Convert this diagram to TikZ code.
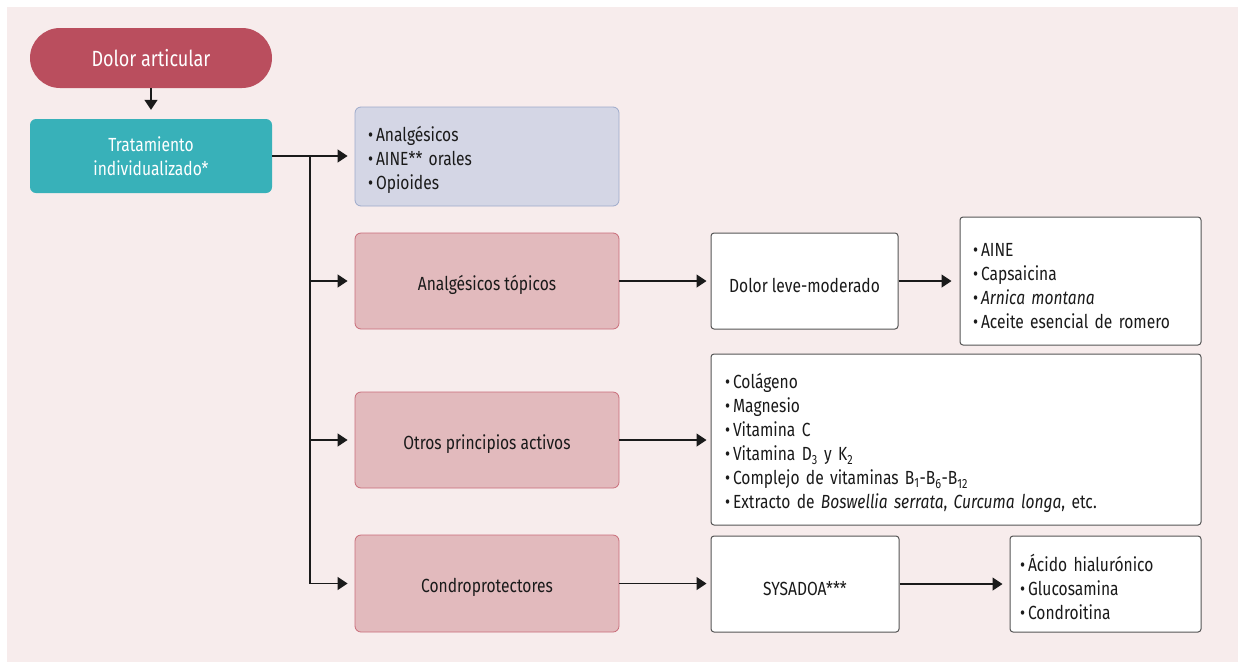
\documentclass[tikz,border=0pt]{standalone}
\usepackage{fontspec}
\setmainfont{Fira Sans}[FakeStretch=0.82]
\usetikzlibrary{arrows.meta}
\definecolor{bg}{HTML}{F7ECEC}
\definecolor{wine}{HTML}{BA4E5E}
\definecolor{teal}{HTML}{38B1B9}
\definecolor{lav}{HTML}{D4D6E5}
\definecolor{lavb}{HTML}{9DAACB}
\definecolor{rose}{HTML}{E2BABD}
\definecolor{roseb}{HTML}{C96C79}
\definecolor{ink}{HTML}{1A1A1A}
\definecolor{wline}{HTML}{555555}
\newcommand{\bul}{\textbullet\hspace{3pt}}
\tikzset{
  txt/.style={font=\fontsize{19}{24}\selectfont, text=ink, execute at begin node={\rule{0pt}{23pt}}},
  topbox/.style={fill=wine, draw=none, rounded corners=30pt, text=white, font=\fontsize{22}{26}\selectfont},
  tealbox/.style={fill=teal, draw=none, rounded corners=6pt, text=white, align=center, font=\fontsize{19}{24}\selectfont},
  lavbox/.style={txt, fill=lav, draw=lavb, line width=0.8pt, rounded corners=6pt},
  rosebox/.style={txt, fill=rose, draw=roseb, line width=0.8pt, rounded corners=6pt},
  whitebox/.style={txt, fill=white, draw=wline, line width=1pt, rounded corners=3pt},
  conn/.style={draw=ink, line width=1.3pt},
  arr/.style={conn, -{Triangle[length=10pt,width=13pt]}},
}
\begin{document}
\begin{tikzpicture}[x=1pt,y=-1pt]
\useasboundingbox (0,0) rectangle (1238,662);
\fill[bg] (7,7) rectangle (1238,662);

\node[topbox, minimum width=242pt, minimum height=60pt] (dolor) at (151,58) {Dolor articular};
\node[tealbox, minimum width=242pt, minimum height=74pt] (trat) at (151,156) {Tratamiento\\individualizado*};

\node[lavbox, minimum width=264pt, minimum height=99pt, text width=238pt, align=left, inner xsep=13pt] (b1) at (487,156.5)
  {\bul Analgésicos\\\bul AINE** orales\\\bul Opioides};
\node[rosebox, minimum width=264pt, minimum height=96pt] (b2) at (487,281) {Analgésicos tópicos};
\node[rosebox, minimum width=264pt, minimum height=96pt] (b3) at (487,440) {Otros principios activos};
\node[rosebox, minimum width=264pt, minimum height=97pt] (b4) at (487,583.5) {Condroprotectores};

\node[whitebox, minimum width=187pt, minimum height=96pt] (leve) at (804.5,281) {Dolor leve-moderado};
\node[whitebox, minimum width=241pt, minimum height=128pt, text width=215pt, align=left, inner xsep=13pt] (lista1) at (1080.5,281)
  {\bul AINE\\\bul Capsaicina\\\bul \textit{Arnica montana}\\\bul Aceite esencial de romero};
\node[whitebox, minimum width=490pt, minimum height=171pt, text width=462pt, align=left, inner xsep=14pt] (lista2) at (956,439.5)
  {\bul Colágeno\\\bul Magnesio\\\bul Vitamina C\\\bul Vitamina D\textsubscript{3} y K\textsubscript{2}\\\bul Complejo de vitaminas B\textsubscript{1}-B\textsubscript{6}-B\textsubscript{12}\\\bul Extracto de \textit{Boswellia serrata}, \textit{Curcuma longa}, etc.};
\node[whitebox, minimum width=188pt, minimum height=96pt] (sys) at (805,584) {SYSADOA***};
\node[whitebox, minimum width=191pt, minimum height=96pt, text width=171pt, align=left, inner xsep=10pt] (acido) at (1105.5,584)
  {\bul Ácido hialurónico\\\bul Glucosamina\\\bul Condroitina};

\draw[arr, shorten >=9pt] (dolor.south) -- (trat.north);
\coordinate (trunk) at (310,156);
\draw[arr, shorten >=7pt] (trat.east) -- (trat.east -| b1.west);
\draw[conn] (trunk) -- (trunk |- b4.west);
\draw[arr, shorten >=7pt] (trunk |- b2.west) -- (b2.west);
\draw[arr, shorten >=7pt] (trunk |- b3.west) -- (b3.west);
\draw[arr, shorten >=7pt] (trunk |- b4.west) -- (b4.west);
\draw[arr, shorten >=4pt] (b2.east) -- (leve.west);
\draw[arr, shorten >=8pt] (leve.east) -- (lista1.west |- leve.east);
\draw[arr, shorten >=4pt] (b3.east) -- (lista2.west |- b3.east);
\draw[arr, shorten >=4pt] (b4.east) -- (sys.west |- b4.east);
\draw[arr, shorten >=7pt] (sys.east) -- (acido.west);
\end{tikzpicture}
\end{document}
